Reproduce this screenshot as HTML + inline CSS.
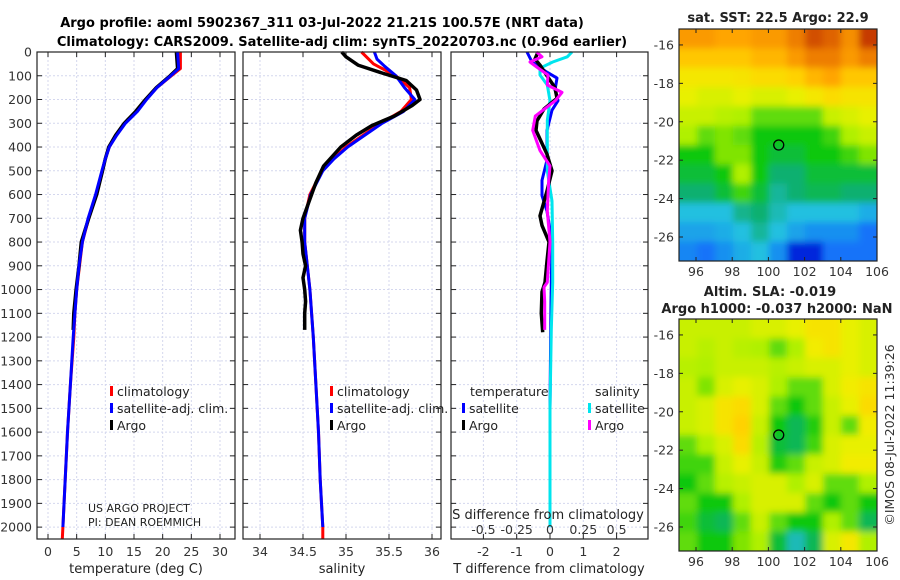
<!DOCTYPE html>
<html><head><meta charset="utf-8"><style>
html,body{margin:0;padding:0;background:#fff;}
svg{display:block;font-family:"DejaVu Sans","Liberation Sans",sans-serif;}
</style></head><body>
<svg id="fig" width="900" height="580" viewBox="0 0 900 580" xmlns="http://www.w3.org/2000/svg">
<text x="322" y="27" font-size="13" font-weight="bold" text-anchor="middle">Argo profile: aoml 5902367_311 03-Jul-2022 21.21S 100.57E (NRT data)</text>
<text x="342" y="46" font-size="13" font-weight="bold" text-anchor="middle">Climatology: CARS2009. Satellite-adj clim: synTS_20220703.nc (0.96d earlier)</text>
<g id="g"></g>
</svg>
<script>
// ---- data ----
const depthTicks=[0,100,200,300,400,500,600,700,800,900,1000,1100,1200,1300,1400,1500,1600,1700,1800,1900,2000];
const tempTicks=[0,5,10,15,20,25,30];
const salTicks=[34,34.5,35,35.5,36];
const tdTicks=[-2,-1,0,1,2];
const sdTicks=[-0.5,-0.25,0,0.25,0.5];
const sdTickLabels=["-0.5","-0.25","0","0.25","0.5"];
// temperature profiles
const tClimDepth=[0,70,100,150,200,250,300,350,400,450,500,600,700,800,900,1000,1100,1200,1400,1600,1800,2000,2050];
const tClimVal=[23.1,23.1,21.5,19,17.1,15.4,13.4,11.9,10.7,10,9.5,8.4,7.1,6,5.5,5,4.7,4.5,3.9,3.4,3,2.6,2.5];
const tSatDepth=[0,70,100,150,200,250,300,350,400,450,500,600,700,800,900,1000,1100,1200,1400,1600,1800,2000];
const tSatVal=[22.6,22.8,21.4,19,17.2,15.6,13.5,12,10.7,10,9.4,8.3,7,6,5.4,5,4.7,4.4,3.9,3.4,3,2.6];
const tArgoDepth=[0,70,100,150,200,250,300,350,400,450,500,600,700,800,900,1000,1100,1170];
const tArgoVal=[22.4,22.6,21.3,18.9,17,15.3,13.3,11.8,10.6,10,9.5,8.5,7.1,5.8,5.4,4.9,4.5,4.4];
// salinity profiles
const sClimDepth=[0,50,100,150,200,250,300,350,400,450,500,600,700,800,900,1000,1200,1400,1600,1800,2000,2050];
const sClimVal=[35.18,35.32,35.58,35.74,35.76,35.64,35.4,35.2,35.0,34.85,34.72,34.58,34.52,34.52,34.55,34.58,34.62,34.65,34.68,34.7,34.73,34.73];
const sSatDepth=[0,30,60,100,150,200,250,300,350,400,450,500,600,700,800,900,1000,1200,1400,1600,1800,2000];
const sSatVal=[35.33,35.36,35.45,35.58,35.68,35.8,35.67,35.42,35.22,35.02,34.86,34.73,34.59,34.52,34.52,34.55,34.58,34.62,34.65,34.68,34.7,34.73];
const sArgoDepth=[0,20,55,85,120,160,200,225,270,310,350,400,480,550,600,700,750,800,850,900,950,1000,1050,1100,1170];
const sArgoVal=[34.95,35.0,35.14,35.39,35.7,35.82,35.86,35.77,35.56,35.3,35.12,34.94,34.74,34.65,34.6,34.5,34.47,34.49,34.5,34.53,34.5,34.52,34.53,34.52,34.52];
// difference profiles
const dtArgoDepth=[0,30,55,100,150,195,240,290,330,430,500,585,690,730,800,880,970,1010,1100,1180];
const dtArgoVal=[-0.36,-0.45,-0.3,-0.09,0.15,0.21,-0.18,-0.39,-0.42,-0.09,0.06,-0.09,-0.3,-0.24,-0.03,-0.09,-0.15,-0.24,-0.26,-0.22];
const dtSatDepth=[0,42,85,110,160,205,245,330,455,540,605,670,800,1050,1500,2000];
const dtSatVal=[-0.69,-0.54,-0.09,0.21,0.15,0.24,0.06,-0.09,-0.09,-0.24,-0.24,-0.09,0.06,0.03,0.0,0.0];
const dsArgoDepth=[0,20,42,63,97,139,170,205,270,330,415,480,540,670,800,880,970,990,1050,1170];
const dsArgoVal=[-0.1,-0.06,-0.15,-0.1,-0.015,-0.02,0.09,0.04,-0.11,-0.13,-0.075,0,-0.01,-0.02,0.0,-0.01,-0.02,-0.045,-0.04,-0.04];
const dsSatDepth=[0,20,42,68,97,139,205,288,415,500,627,800,970,1170,1500,2000];
const dsSatVal=[0.165,0.13,0.02,-0.075,-0.075,-0.02,0,-0.02,-0.02,-0.02,0.015,0.02,0.02,0.01,0,0];
// maps (colormap index 0..1), rows north->south, 11 columns 95.5..105.5E
const sstGrid=[
[0.8,0.8,0.78,0.78,0.8,0.8,0.85,0.9,0.88,0.82,0.92],
[0.72,0.72,0.72,0.72,0.75,0.75,0.8,0.85,0.85,0.8,0.85],
[0.65,0.65,0.65,0.66,0.68,0.68,0.7,0.75,0.78,0.72,0.72],
[0.62,0.6,0.6,0.62,0.6,0.6,0.62,0.65,0.68,0.66,0.66],
[0.58,0.58,0.56,0.55,0.5,0.5,0.5,0.5,0.58,0.6,0.62],
[0.55,0.5,0.52,0.5,0.45,0.45,0.45,0.45,0.48,0.55,0.58],
[0.45,0.45,0.52,0.52,0.45,0.42,0.42,0.45,0.45,0.48,0.52],
[0.42,0.42,0.45,0.55,0.45,0.38,0.38,0.42,0.42,0.42,0.42],
[0.38,0.38,0.42,0.48,0.42,0.35,0.38,0.4,0.4,0.38,0.38],
[0.3,0.3,0.3,0.36,0.38,0.33,0.3,0.3,0.3,0.3,0.28],
[0.27,0.27,0.28,0.3,0.35,0.3,0.27,0.25,0.25,0.25,0.22],
[0.24,0.22,0.25,0.28,0.3,0.25,0.12,0.12,0.22,0.22,0.22]];
const slaGrid=[
[0.58,0.58,0.58,0.58,0.6,0.6,0.62,0.66,0.66,0.62,0.6],
[0.58,0.56,0.58,0.56,0.55,0.5,0.55,0.64,0.66,0.62,0.6],
[0.56,0.55,0.58,0.58,0.58,0.56,0.58,0.6,0.6,0.62,0.6],
[0.58,0.52,0.6,0.62,0.6,0.55,0.5,0.5,0.6,0.64,0.66],
[0.58,0.6,0.66,0.68,0.6,0.5,0.45,0.5,0.58,0.62,0.68],
[0.58,0.6,0.66,0.7,0.58,0.45,0.4,0.46,0.58,0.5,0.64],
[0.5,0.55,0.6,0.68,0.56,0.42,0.4,0.48,0.6,0.62,0.62],
[0.48,0.48,0.58,0.62,0.58,0.46,0.5,0.58,0.6,0.64,0.64],
[0.45,0.5,0.56,0.58,0.6,0.6,0.55,0.6,0.5,0.5,0.55],
[0.5,0.45,0.45,0.55,0.6,0.6,0.6,0.5,0.45,0.5,0.45],
[0.48,0.42,0.4,0.5,0.58,0.5,0.45,0.45,0.55,0.5,0.4],
[0.5,0.45,0.45,0.52,0.55,0.42,0.33,0.4,0.6,0.65,0.55]];
const lonTicks=[96,98,100,102,104,106];
const latTicks=[-16,-18,-20,-22,-24,-26];
const argoLon=100.57, argoLat=-21.21;

// ---- drawing ----
const NS="http://www.w3.org/2000/svg";
const G=document.getElementById('g');
function mk(tag,attrs,parent){const e=document.createElementNS(NS,tag);for(const k in attrs)e.setAttribute(k,attrs[k]);(parent||G).appendChild(e);return e;}
const PT=52,PB=539,D0=0,D1=2050;
const yD=d=>PT+(d-D0)/(D1-D0)*(PB-PT);
function lin(a,b,pa,pb){return v=>pa+(v-a)/(b-a)*(pb-pa);}
const xT=lin(0,30,48,220);
const xS=lin(34,36,260,432);
const xTD=lin(0,1,550,583.3);
const xSD=lin(0,0.25,550,583.3);
const panels=[[37,235],[243,441],[451,648]];

function panelFrame(i,xs,xf,yLabels){
  const [l,r]=panels[i];
  for(const d of depthTicks){
    const y=yD(d);
    const gl=mk('line',{x1:l,x2:r,y1:y,y2:y,stroke:'#d4d7ee','stroke-width':1,'stroke-dasharray':'2,2'});
    
    
    mk('line',{x1:l,x2:l+5,y1:y,y2:y,stroke:'#222'});
    mk('line',{x1:r-5,x2:r,y1:y,y2:y,stroke:'#222'});
    if(yLabels){const t=mk('text',{x:l-5,y:y+4.5,'font-size':12.5,'text-anchor':'end',fill:'#333'});t.textContent=d;
      
      }
  }
  for(const v of xs){
    const x=xf(v);
    const gl=mk('line',{x1:x,x2:x,y1:PT,y2:PB,stroke:'#d4d7ee','stroke-width':1,'stroke-dasharray':'2,2'});
    
    
    mk('line',{x1:x,x2:x,y1:PB-5,y2:PB,stroke:'#222'});
    mk('line',{x1:x,x2:x,y1:PT,y2:PT+5,stroke:'#222'});
  }
}
function frameBox(i){const [l,r]=panels[i];const b=mk('rect',{x:l,y:PT,width:r-l,height:PB-PT,fill:'none',stroke:'#222','stroke-width':1.2});
  
  }
function line(depths,vals,xf,color,w,name){
  const pts=depths.map((d,k)=>xf(vals[k]).toFixed(1)+','+yD(d).toFixed(1)).join(' ');
  const p=mk('polyline',{points:pts,fill:'none',stroke:color,'stroke-width':w,'stroke-linejoin':'round'});
  
  
}
function xLabels(vals,labels,xf,y){vals.forEach((v,k)=>{const t=mk('text',{x:xf(v),y:y,'font-size':12.5,'text-anchor':'middle',fill:'#333'});t.textContent=labels[k];
  
  });}
function label(x,y,s,txt,name,anchor,extra){const t=mk('text',Object.assign({x:x,y:y,'font-size':s,'text-anchor':anchor||'start',fill:'#222'},extra||{}));t.textContent=txt;
  
  return t;}
function legendItem(x,y,color,txt,name){const r=mk('rect',{x:x,y:y-10,width:3,height:10,fill:color});
  
  
  label(x+7,y,12.5,txt,name);}

// panel 1 temperature
panelFrame(0,tempTicks,xT,true);
line(tClimDepth,tClimVal,xT,'#ff0000',3,'temp-climatology-line');
line(tArgoDepth,tArgoVal,xT,'#000',3.5,'temp-argo-line');
line(tSatDepth,tSatVal,xT,'#0000ff',3,'temp-satellite-line');
frameBox(0);
xLabels(tempTicks,tempTicks.map(String),xT,556);
label(136,573,13,'temperature (deg C)','temp-axis-title','middle');
legendItem(110,396,'#ff0000','climatology','legend-climatology');
legendItem(110,413,'#0000ff','satellite-adj. clim.','legend-satellite-adj');
legendItem(110,430,'#000','Argo','legend-argo');
label(88,512,11,'US ARGO PROJECT','project-credit');
label(88,526,11,'PI: DEAN ROEMMICH','pi-credit');

// panel 2 salinity
panelFrame(1,salTicks,xS,false);
line(sClimDepth,sClimVal,xS,'#ff0000',3,'sal-climatology-line');
line(sSatDepth,sSatVal,xS,'#0000ff',3,'sal-satellite-line');
line(sArgoDepth,sArgoVal,xS,'#000',3.5,'sal-argo-line');
frameBox(1);
xLabels(salTicks,salTicks.map(String),xS,556);
label(342,573,13,'salinity','sal-axis-title','middle');
legendItem(330,396,'#ff0000','climatology','legend2-climatology');
legendItem(330,413,'#0000ff','satellite-adj. clim.','legend2-satellite-adj');
legendItem(330,430,'#000','Argo','legend2-argo');

// panel 3 differences
panelFrame(2,tdTicks,xTD,false);
line(dtSatDepth,dtSatVal,xTD,'#0000ff',3,'tdiff-satellite-line');
line(dsSatDepth,dsSatVal,xSD,'#00e5ee',3,'sdiff-satellite-line');
line(dtArgoDepth,dtArgoVal,xTD,'#000',3.5,'tdiff-argo-line');
line(dsArgoDepth,dsArgoVal,xSD,'#ff00ff',3,'sdiff-argo-line');
frameBox(2);
xLabels(tdTicks,tdTicks.map(String),xTD,556);
label(549,573,13,'T difference from climatology','tdiff-axis-title','middle');
label(548,519,13,'S difference from climatology','sdiff-axis-title','middle');
xLabels(sdTicks,sdTickLabels,xSD,534);
label(470,396,12.5,'temperature','legend3-temp-header');
legendItem(462,413,'#0000ff','satellite','legend3-temp-satellite');
legendItem(462,430,'#000','Argo','legend3-temp-argo');
label(595,396,12.5,'salinity','legend3-sal-header');
legendItem(588,413,'#00e5ee','satellite','legend3-sal-satellite');
legendItem(588,430,'#ff00ff','Argo','legend3-sal-argo');

// maps
const stops=[[0,[0,0,150]],[0.12,[0,40,220]],[0.2,[16,96,255]],[0.3,[32,192,224]],[0.38,[16,176,112]],[0.45,[16,200,16]],[0.55,[176,240,0]],[0.63,[240,240,0]],[0.7,[255,210,0]],[0.78,[255,165,0]],[0.86,[235,120,0]],[0.93,[192,48,0]],[1,[140,0,0]]];
function cmap(v){for(let i=1;i<stops.length;i++){if(v<=stops[i][0]){const [a,ca]=stops[i-1],[b,cb]=stops[i];const t=(v-a)/(b-a);return 'rgb('+ca.map((c,k)=>Math.round(c+(cb[k]-c)*t)).join(',')+')';}}return 'rgb(140,0,0)';}
const ML=679,MR=877,LON0=95.06,LON1=106.0;
const xLon=lin(LON0,LON1,ML,MR);
const defs=mk('defs',{});
const f=mk('filter',{id:'bl',x:'-5%',y:'-5%',width:'110%',height:'110%'},defs);
mk('feGaussianBlur',{stdDeviation:3.5},f);
function drawMap(grid,top,bot,name,cid){
  const yLat=lin(-15.17,-27.25,top,bot);
  const cp=mk('clipPath',{id:cid},defs);
  mk('rect',{x:ML,y:top,width:MR-ML,height:bot-top},cp);
  const g=mk('g',{'clip-path':'url(#'+cid+')'});
  
  
  const inner=mk('g',{filter:'url(#bl)'},g);
  const rows=grid.length,cols=grid[0].length;
  const cw=(MR-ML)/cols,ch=(bot-top)/rows;
  for(let r=-1;r<=rows;r++)for(let c=-1;c<=cols;c++){
    const rr=Math.min(rows-1,Math.max(0,r)),cc=Math.min(cols-1,Math.max(0,c));
    const cell=mk('rect',{x:ML+c*cw,y:top+r*ch,width:cw+1,height:ch+1,fill:cmap(grid[rr][cc])},inner);
    
    
  }
  const box=mk('rect',{x:ML,y:top,width:MR-ML,height:bot-top,fill:'none',stroke:'#222','stroke-width':1.2});
  
  
  for(const lo of lonTicks){const x=xLon(lo);mk('line',{x1:x,x2:x,y1:bot-4,y2:bot,stroke:'#222'});mk('line',{x1:x,x2:x,y1:top,y2:top+4,stroke:'#222'});
    const t=mk('text',{x:x,y:bot+15,'font-size':12.5,'text-anchor':'middle',fill:'#333'});t.textContent=lo;
    
    }
  for(const la of latTicks){const y=yLat(la);mk('line',{x1:ML,x2:ML+4,y1:y,y2:y,stroke:'#222'});mk('line',{x1:MR-4,x2:MR,y1:y,y2:y,stroke:'#222'});
    const t=mk('text',{x:ML-5,y:y+4.5,'font-size':12.5,'text-anchor':'end',fill:'#333'});t.textContent=la;
    
    }
  const m=mk('circle',{cx:xLon(argoLon),cy:yLat(argoLat),r:5,fill:'none',stroke:'#000','stroke-width':1.3});
  
  
}
drawMap(sstGrid,29,261,'sst-map','c1');
drawMap(slaGrid,319,551,'sla-map','c2');
label(778,22,13,'sat. SST: 22.5 Argo: 22.9','sst-map-title','middle',{'font-weight':'bold'});
label(770,296,13,'Altim. SLA: -0.019','sla-map-title-1','middle',{'font-weight':'bold'});
label(777,313,13,'Argo h1000: -0.037 h2000: NaN','sla-map-title-2','middle',{'font-weight':'bold'});
label(0,0,12.5,'©IMOS 08-Jul-2022 11:39:26','timestamp','middle',{transform:'translate(894,435) rotate(-90)',fill:'#333'});
</script>
</body></html>
